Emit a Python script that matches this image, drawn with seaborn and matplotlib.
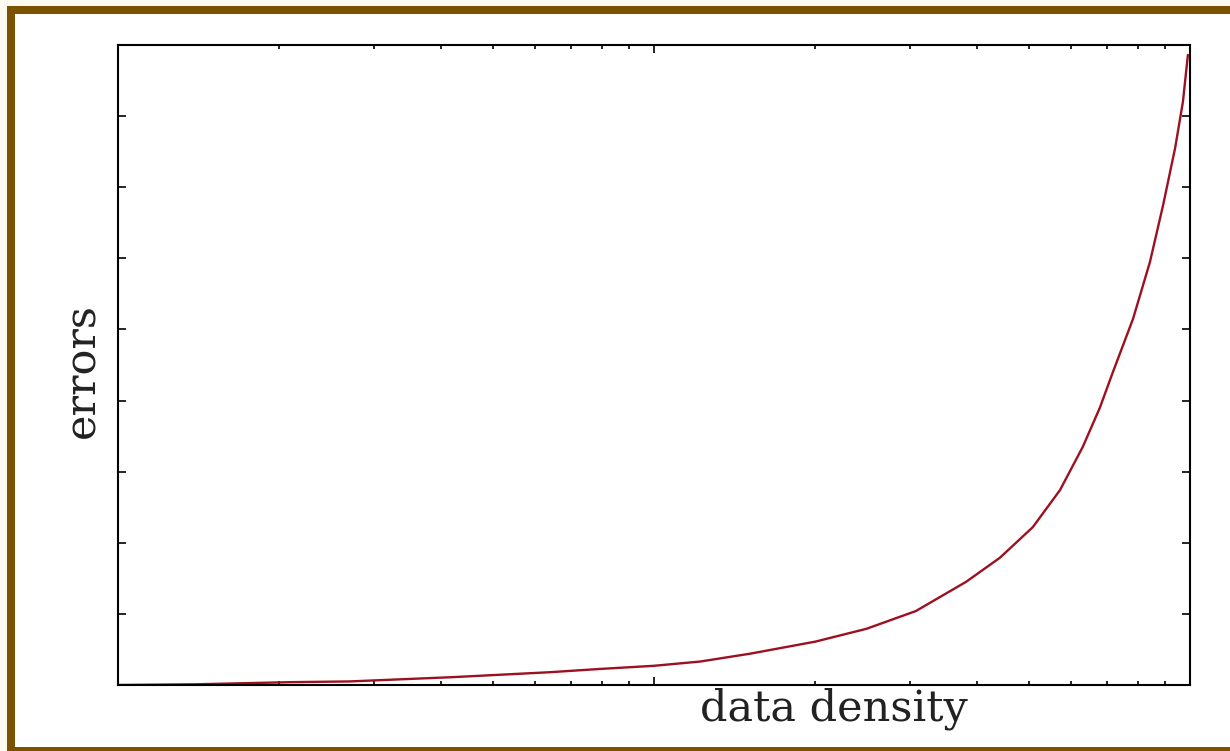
import numpy as np
import pandas as pd
import matplotlib
matplotlib.use("Agg")
import matplotlib.pyplot as plt
import matplotlib.ticker as mticker
from matplotlib.patches import Rectangle
import seaborn as sns

sns.set_style("white")
plt.rcParams['font.family'] = ['DejaVu Serif', 'Liberation Serif']

# values (x on a log axis, y linear, no labels)
density = [0.10, 0.14, 0.21, 0.27, 0.42, 0.64, 0.79, 1.0, 1.22, 1.51, 2.0, 2.49,
           3.08, 3.82, 4.42, 5.09, 5.72, 6.31, 6.79, 7.18, 7.83, 8.42, 8.91, 9.38,
           9.70, 9.91]
errors = [0.0, 0.01, 0.04, 0.05, 0.11, 0.18, 0.225, 0.27, 0.33, 0.44, 0.61, 0.79,
          1.04, 1.45, 1.79, 2.22, 2.74, 3.35, 3.90, 4.40, 5.15, 5.95, 6.75, 7.55,
          8.20, 8.86]

x_major = [0.1, 1, 10]
x_minor = [0.2, 0.3, 0.4, 0.5, 0.6, 0.7, 0.8, 0.9, 2, 3, 4, 5, 6, 7, 8, 9]
y_ticks = [1, 2, 3, 4, 5, 6, 7, 8]

df = pd.DataFrame({"density": density, "errors": errors})

W, H = 1230, 751
fig = plt.figure(figsize=(W / 100, H / 100), dpi=100)
fig.patch.set_facecolor("#fdfaf2")

# brown frame (right and bottom edges run off the picture)
brown = "#7b5200"
fig.patches.append(Rectangle((15 / W, 0), 1 - 15 / W, 1 - 14 / H, transform=fig.transFigure,
                             facecolor="white", edgecolor="none", zorder=-2))
for xy, w, h in [((7 / W, 1 - 14 / H), 1, 8 / H),
                 ((7 / W, 0), 8 / W, 1 - 6 / H),
                 ((7 / W, 0), 1, 4 / H)]:
    fig.patches.append(Rectangle(xy, w, h, transform=fig.transFigure,
                                 facecolor=brown, edgecolor="none", zorder=-1))

ax = fig.add_axes([118 / W, 1 - 685 / H, (1190 - 118) / W, (685 - 45) / H])
ax.set_facecolor("white")
sns.lineplot(data=df, x="density", y="errors", ax=ax, color="#9c1020", linewidth=1.7)

ax.set_xscale("log")
ax.set_xlim(0.1, 10)
ax.set_ylim(0, 9)
ax.xaxis.set_major_locator(mticker.FixedLocator(x_major))
ax.xaxis.set_minor_locator(mticker.FixedLocator(x_minor))
ax.xaxis.set_major_formatter(mticker.NullFormatter())
ax.xaxis.set_minor_formatter(mticker.NullFormatter())
ax.set_yticks(y_ticks)
ax.yaxis.set_major_formatter(mticker.NullFormatter())
ax.tick_params(axis="x", which="major", direction="in", top=True, bottom=True,
               length=6, width=1.2, color="black")
ax.tick_params(axis="x", which="minor", direction="in", top=True, bottom=True,
               length=3, width=1.2, color="black")
ax.tick_params(axis="y", which="major", direction="in", left=True, right=True,
               length=6, width=1.2, color="black")
ax.set_xlabel("")
ax.set_ylabel("")
for sp in ax.spines.values():
    sp.set_visible(True)
    sp.set_color("black")
    sp.set_linewidth(1.5)

fig.text(834 / W, 1 - 721 / H, "data density", fontsize=31, ha="center",
         va="baseline", color="#222222")
fig.text(82 / W, 1 - 371 / H, "errors", fontsize=31, ha="center", va="center",
         rotation=90, color="#222222")

fig.savefig("out.png", dpi=100)
